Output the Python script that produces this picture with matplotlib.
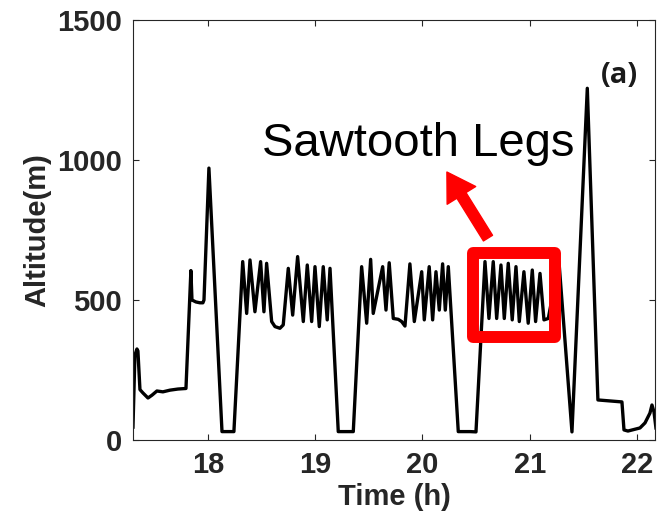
import matplotlib.pyplot as plt
from matplotlib.patches import Rectangle
import numpy as np

# flight track: time of day (h) and altitude (m)
time_h = [17.301, 17.319, 17.338, 17.347, 17.366, 17.394, 17.441, 17.478, 17.524, 17.580,
          17.646, 17.720, 17.795, 17.841, 17.851, 17.888, 17.925, 17.953, 17.963, 18.009,
          18.131, 18.242, 18.324, 18.361, 18.392, 18.438, 18.491, 18.522, 18.547, 18.594,
          18.625, 18.671, 18.702, 18.749, 18.790, 18.836, 18.889, 18.926, 18.967, 18.998,
          19.038, 19.075, 19.112, 19.138, 19.215, 19.355, 19.433, 19.480, 19.517, 19.541,
          19.629, 19.660, 19.690, 19.728, 19.774, 19.806, 19.837, 19.883, 19.924, 19.993,
          20.017, 20.063, 20.095, 20.126, 20.157, 20.188, 20.213, 20.241, 20.334, 20.443,
          20.499, 20.583, 20.620, 20.660, 20.692, 20.732, 20.763, 20.800, 20.837, 20.872,
          20.903, 20.946, 20.986, 21.024, 21.055, 21.096, 21.133, 21.173, 21.273, 21.394,
          21.537, 21.636, 21.860, 21.879, 21.916, 22.028, 22.075, 22.121, 22.140, 22.159,
          22.177]
altitude_m = [46, 303, 325, 318, 180, 168, 150, 160, 175, 172,
              178, 182, 184, 605, 500, 493, 490, 490, 500, 971,
              30, 30, 637, 452, 643, 458, 637, 458, 631, 423,
              405, 399, 411, 613, 446, 655, 423, 625, 423, 619,
              405, 619, 429, 613, 30, 30, 619, 417, 645, 452,
              619, 464, 633, 434, 431, 423, 407, 629, 423, 601,
              429, 619, 429, 601, 464, 629, 464, 619, 30, 30,
              29, 637, 434, 637, 434, 625, 434, 631, 429, 619,
              423, 601, 417, 607, 423, 595, 429, 434, 636, 29,
              1256, 143, 136, 36, 32, 43, 61, 96, 125, 100,
              43]

x_ticks = [18, 19, 20, 21, 22]
y_ticks = [0, 500, 1000, 1500]

plt.rcParams['font.family'] = ['Liberation Sans', 'DejaVu Sans']

fig = plt.figure(figsize=(6.58, 5.26), dpi=100)
ax = fig.add_axes([0.2021, 0.1635, 0.7933, 0.7985])

ax.plot(time_h, altitude_m, color='black', lw=2.4, solid_joinstyle='round', zorder=2)

ax.set_xlim(17.301, 22.168)
ax.set_ylim(0, 1500)
ax.set_xticks(x_ticks)
ax.set_yticks(y_ticks)
ax.tick_params(direction='in', length=4, width=0.8, top=True, right=True,
               labelsize=21, pad=8, colors='#262626')
for lab in ax.get_xticklabels() + ax.get_yticklabels():
    lab.set_fontweight('bold')
for sp in ax.spines.values():
    sp.set_color('#262626')
    sp.set_linewidth(0.8)

ax.set_xlabel('Time (h)', fontsize=21, fontweight='bold', color='#262626', labelpad=3)
ax.set_ylabel('Altitude(m)', fontsize=21, fontweight='bold', color='#262626', labelpad=4)

# highlight box around the sawtooth legs
box = Rectangle((20.471, 368), 21.235 - 20.471, 668 - 368, fill=False,
                edgecolor='#ff0000', lw=8.6, joinstyle='round', zorder=3)
ax.add_patch(box)

ax.annotate('', xy=(20.228, 957), xytext=(20.611, 721),
            arrowprops=dict(arrowstyle='simple,head_length=0.9,head_width=1.1,tail_width=0.35',
                            color='#ff0000', mutation_scale=22, shrinkA=0, shrinkB=0),
            zorder=3)
ax.text(19.958, 1014, 'Sawtooth Legs', fontsize=34, ha='center', va='baseline', color='black')
ax.text(21.837, 1302, '(a)', fontsize=21, fontweight='bold', family=['Open Sans', 'DejaVu Sans'],
        ha='center', va='center', color='#1a1a1a')

fig.savefig('out.png', dpi=100)
